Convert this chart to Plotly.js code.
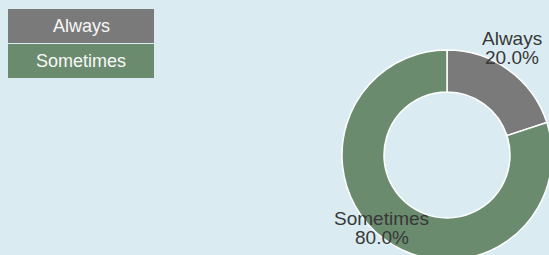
<!DOCTYPE html>
<html><head><meta charset="utf-8">
<script src="https://cdn.plot.ly/plotly-3.0.1.min.js"></script>
<style>html,body{margin:0;padding:0;overflow:hidden;background:#daecf2;} #chart{width:560px;height:310px;}</style>
</head><body><div id="chart"></div>
<script>
const categories = ["Always", "Sometimes"];
const values = [20, 80];
const colors = ["#7a7a7a", "#6b8b6f"];

const W = 560, H = 310;
const cx = 447, cy = 155, R = 105;
const px = x => x / W, py = y => 1 - y / H;
const FONT = 'Liberation Sans, Arial, Helvetica, sans-serif';

const total = values.reduce((a, b) => a + b, 0);
const shapes = [], annotations = [];

categories.forEach((c, i) => {
  const top = 9 + i * 35;
  shapes.push({type: 'rect', xref: 'paper', yref: 'paper',
    x0: px(8), x1: px(154), y0: py(top + 34), y1: py(top),
    fillcolor: colors[i], line: {width: 0}, layer: 'above'});
  annotations.push({xref: 'paper', yref: 'paper', x: px(81), y: py(top + 17), text: c,
    showarrow: false, xanchor: 'center', yanchor: 'middle',
    font: {family: FONT, size: 18, color: '#f8f8f8'}});
});

let cum = 0;
values.forEach((v, i) => {
  const mid = (cum + v / 2) / total * 2 * Math.PI; cum += v;
  const x = cx + 1.06 * R * Math.sin(mid), y = cy - 1.06 * R * Math.cos(mid);
  const pct = (v / total * 100).toFixed(1) + '%';
  annotations.push({xref: 'paper', yref: 'paper', x: px(x), y: py(y - 26.5), text: categories[i],
    showarrow: false, xanchor: 'center', yanchor: 'middle',
    font: {family: FONT, size: 19, color: '#383838'}});
  annotations.push({xref: 'paper', yref: 'paper', x: px(x), y: py(y - 7.5), text: pct,
    showarrow: false, xanchor: 'center', yanchor: 'middle',
    font: {family: FONT, size: 19, color: '#383838'}});
});

const data = [{
  type: 'pie', labels: categories, values: values, hole: 0.6, sort: false,
  direction: 'clockwise', rotation: 0,
  marker: {colors: colors, line: {color: '#ffffff', width: 1.5}},
  textinfo: 'none', hoverinfo: 'none', showlegend: false,
  domain: {x: [px(cx - R), px(cx + R)], y: [py(cy + R), py(cy - R)]}
}];

const layout = {
  width: W, height: H, margin: {l: 0, r: 0, t: 0, b: 0, pad: 0},
  paper_bgcolor: '#daecf2', plot_bgcolor: '#daecf2', showlegend: false,
  shapes: shapes, annotations: annotations
};
Plotly.newPlot('chart', data, layout, {displayModeBar: false, staticPlot: true});
</script>
</body></html>
